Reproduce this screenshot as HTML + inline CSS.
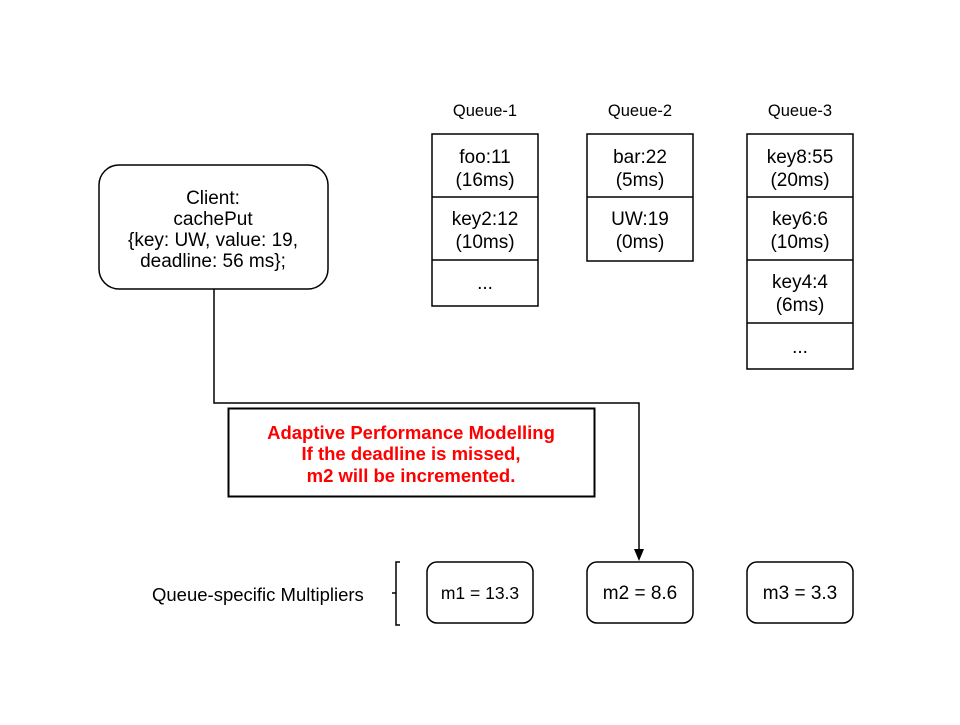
<!DOCTYPE html>
<html><head><style>
body{margin:0;width:960px;height:720px;background:#fff;font-family:"Liberation Sans",sans-serif;}
</style></head><body>
<svg width="960" height="720" xmlns="http://www.w3.org/2000/svg" font-family="Liberation Sans, sans-serif">
<g fill="none" stroke="#000" stroke-width="1.5">
<rect x="99" y="165" width="229" height="124" rx="20"/>
<path d="M214 289 V403 H639 V550"/>
<rect x="228.5" y="408.5" width="366" height="88" stroke-width="2"/>
<rect x="432" y="134" width="106" height="172"/>
<line x1="432" y1="197" x2="538" y2="197"/><line x1="432" y1="260" x2="538" y2="260"/>
<rect x="587" y="134" width="106" height="127"/>
<line x1="587" y1="197" x2="693" y2="197"/>
<rect x="747" y="134" width="106" height="235"/>
<line x1="747" y1="197" x2="853" y2="197"/><line x1="747" y1="260" x2="853" y2="260"/><line x1="747" y1="323" x2="853" y2="323"/>
<rect x="427" y="562" width="106" height="61" rx="10"/>
<rect x="587" y="562" width="106" height="61" rx="10"/>
<rect x="747" y="562" width="106" height="61" rx="10"/>
<path d="M400 562 H396 V625 H400 M396 593 H392"/>
</g>
<path d="M634 549 L644 549 L639 561 Z" fill="#000"/>
<g font-size="19" text-anchor="middle" fill="#000">
<text x="213" y="204">Client:</text>
<text x="213" y="225">cachePut</text>
<text x="213" y="246">{key: UW, value: 19,</text>
<text x="213" y="267">deadline: 56 ms};</text>
<text x="485" y="163">foo:11</text><text x="485" y="186">(16ms)</text>
<text x="485" y="225">key2:12</text><text x="485" y="248">(10ms)</text>
<text x="485" y="289">...</text>
<text x="640" y="163">bar:22</text><text x="640" y="186">(5ms)</text>
<text x="640" y="225">UW:19</text><text x="640" y="248">(0ms)</text>
<text x="800" y="163">key8:55</text><text x="800" y="186">(20ms)</text>
<text x="800" y="225">key6:6</text><text x="800" y="248">(10ms)</text>
<text x="800" y="288">key4:4</text><text x="800" y="311">(6ms)</text>
<text x="800" y="353">...</text>
<text x="640" y="599">m2 = 8.6</text>
<text x="800" y="599">m3 = 3.3</text>
</g>
<g font-size="16.5" text-anchor="middle">
<text x="485" y="116">Queue-1</text>
<text x="640" y="116">Queue-2</text>
<text x="800" y="116">Queue-3</text>
</g>
<text x="480" y="599" font-size="17.5" text-anchor="middle">m1 = 13.3</text>
<text x="152" y="601" font-size="18.5">Queue-specific Multipliers</text>
<g font-size="18.5" font-weight="bold" fill="#f00" text-anchor="middle">
<text x="411" y="439">Adaptive Performance Modelling</text>
<text x="411" y="460">If the deadline is missed,</text>
<text x="411" y="482">m2 will be incremented.</text>
</g>
</svg>
</body></html>
